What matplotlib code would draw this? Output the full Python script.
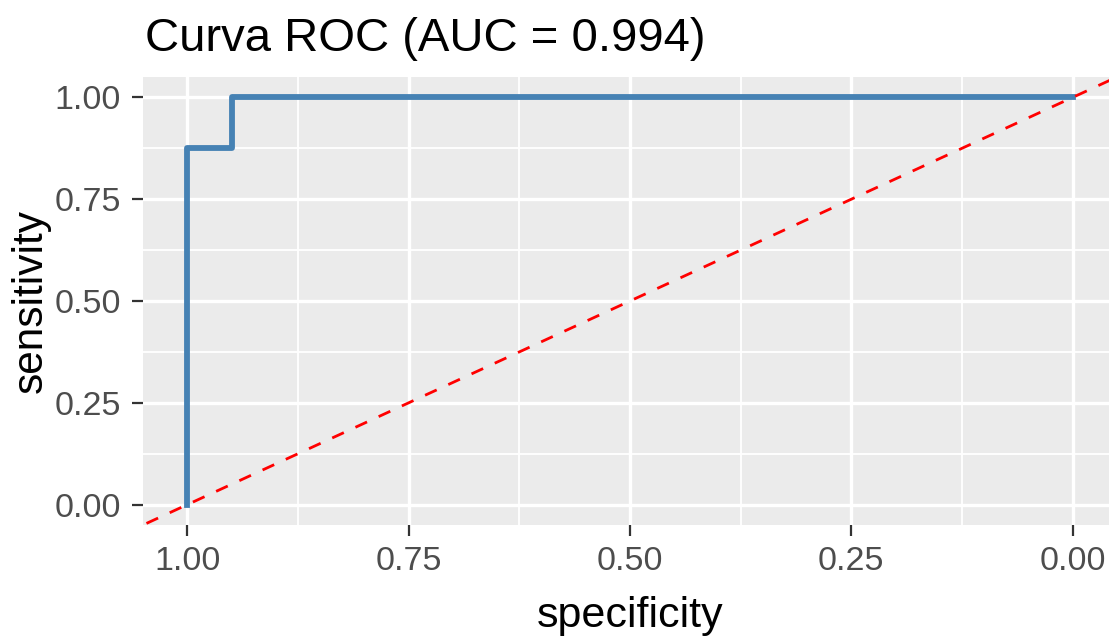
import matplotlib
matplotlib.use("Agg")
import matplotlib.pyplot as plt

# ROC curve points (x axis is specificity, reversed)
specificity = [1.0, 1.0, 0.95, 0.95, 0.0]
sensitivity = [0.0, 0.875, 0.875, 1.0, 1.0]
ticks = [1.00, 0.75, 0.50, 0.25, 0.00]
tick_labels = ["1.00", "0.75", "0.50", "0.25", "0.00"]
minor_ticks = [0.875, 0.625, 0.375, 0.125]
title = "Curva ROC (AUC = 0.994)"

plt.rcParams['font.family'] = ['Liberation Sans', 'DejaVu Sans']

W, H = 1109, 637
fig = plt.figure(figsize=(W / 100, H / 100), dpi=100)
# panel in pixels: left 143, right 1117 (cut by image edge), top 77, bottom 525
ax = fig.add_axes([143 / W, 1 - 525 / H, 974 / W, 448 / H])
ax.set_facecolor("#EBEBEB")
for s in ax.spines.values():
    s.set_visible(False)

ax.set_xlim(1.05, -0.05)
ax.set_ylim(-0.05, 1.05)

# grid
for v in minor_ticks:
    ax.axvline(v, color="white", lw=1.3, zorder=0)
    ax.axhline(v, color="white", lw=1.3, zorder=0)
for v in ticks:
    ax.axvline(v, color="white", lw=2.4, zorder=0)
    ax.axhline(v, color="white", lw=2.4, zorder=0)

ax.plot(specificity, sensitivity, color="#4682B4", lw=4.2, zorder=2,
        solid_joinstyle="round")
ax.axline((1, 0), (0, 1), color="red", lw=2.0, ls=(0, (4.6, 4.6)), zorder=3)

ax.set_xticks(ticks)
ax.set_xticklabels(tick_labels)
ax.set_yticks(ticks)
ax.set_yticklabels(tick_labels)
ax.tick_params(axis="both", length=8, width=1.6, color="#333333",
               labelcolor="#4D4D4D", labelsize=24.5)
ax.tick_params(axis="y", pad=8)
ax.tick_params(axis="x", pad=7)

fig.text(145 / W, 1 - 51 / H, title, fontsize=34, ha="left", va="baseline")
fig.text(42 / W, 1 - 301 / H, "sensitivity", fontsize=30.5, rotation=90,
         ha="center", va="baseline", rotation_mode="anchor")
fig.text(630 / W, 1 - 627 / H, "specificity", fontsize=31,
         ha="center", va="baseline")

fig.savefig("out.png", dpi=100)
